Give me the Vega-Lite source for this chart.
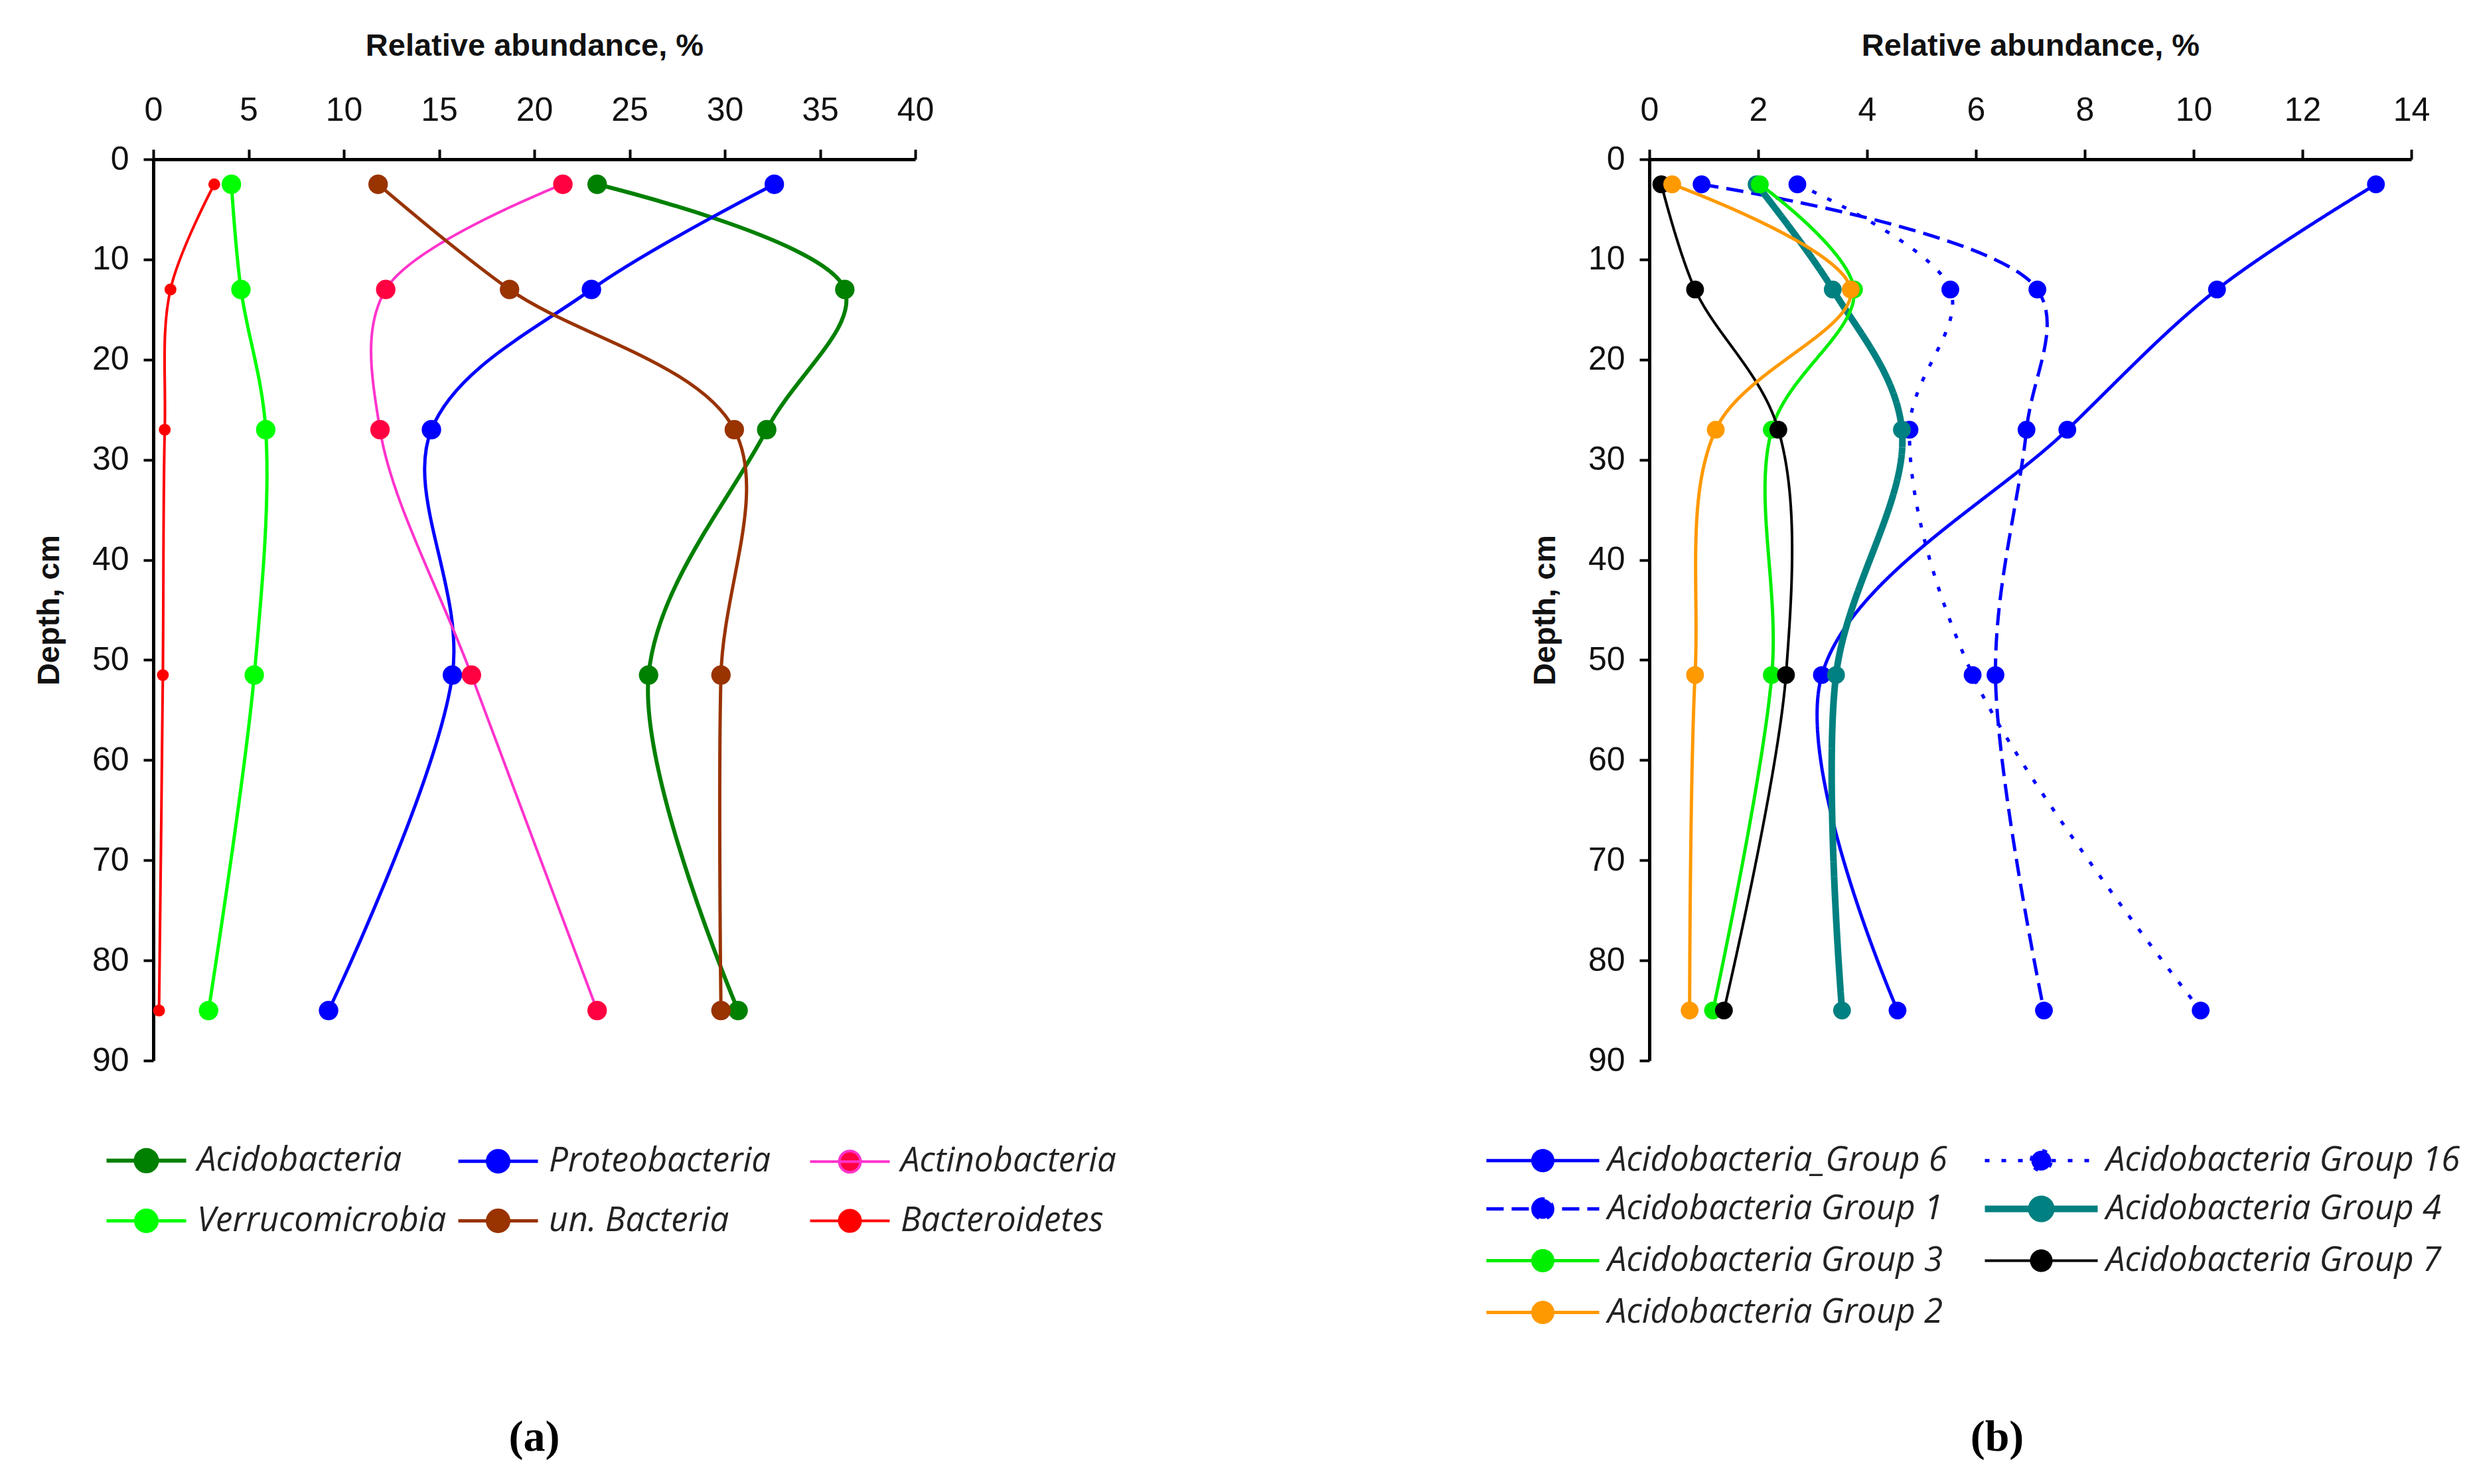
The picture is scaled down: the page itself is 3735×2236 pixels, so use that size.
{
  "$schema": "https://vega.github.io/schema/vega-lite/v6.json",
  "background": "white",
  "padding": {"left": 50, "top": 45, "right": 20, "bottom": 10},
  "autosize": {"type": "pad"},
  "bounds": "flush",
  "columns": 2,
  "spacing": {"row": 528, "column": 1106},
  "datasets": {
    "a": [
      {"series": "Acidobacteria", "depth": 2.5, "value": 23.3},
      {"series": "Acidobacteria", "depth": 13, "value": 36.3},
      {"series": "Acidobacteria", "depth": 27, "value": 32.2},
      {"series": "Acidobacteria", "depth": 51.5, "value": 26.0},
      {"series": "Acidobacteria", "depth": 85, "value": 30.7},
      {"series": "Proteobacteria", "depth": 2.5, "value": 32.6},
      {"series": "Proteobacteria", "depth": 13, "value": 23.0},
      {"series": "Proteobacteria", "depth": 27, "value": 14.6},
      {"series": "Proteobacteria", "depth": 51.5, "value": 15.7},
      {"series": "Proteobacteria", "depth": 85, "value": 9.2},
      {"series": "Actinobacteria", "depth": 2.5, "value": 21.5},
      {"series": "Actinobacteria", "depth": 13, "value": 12.2},
      {"series": "Actinobacteria", "depth": 27, "value": 11.9},
      {"series": "Actinobacteria", "depth": 51.5, "value": 16.7},
      {"series": "Actinobacteria", "depth": 85, "value": 23.3},
      {"series": "Verrucomicrobia", "depth": 2.5, "value": 4.1},
      {"series": "Verrucomicrobia", "depth": 13, "value": 4.6},
      {"series": "Verrucomicrobia", "depth": 27, "value": 5.9},
      {"series": "Verrucomicrobia", "depth": 51.5, "value": 5.3},
      {"series": "Verrucomicrobia", "depth": 85, "value": 2.9},
      {"series": "un. Bacteria", "depth": 2.5, "value": 11.8},
      {"series": "un. Bacteria", "depth": 13, "value": 18.7},
      {"series": "un. Bacteria", "depth": 27, "value": 30.5},
      {"series": "un. Bacteria", "depth": 51.5, "value": 29.8},
      {"series": "un. Bacteria", "depth": 85, "value": 29.8},
      {"series": "Bacteroidetes", "depth": 2.5, "value": 3.2},
      {"series": "Bacteroidetes", "depth": 13, "value": 0.9},
      {"series": "Bacteroidetes", "depth": 27, "value": 0.6},
      {"series": "Bacteroidetes", "depth": 51.5, "value": 0.5},
      {"series": "Bacteroidetes", "depth": 85, "value": 0.3}
    ],
    "b": [
      {"series": "Acidobacteria_Group 6", "depth": 2.5, "value": 13.35},
      {"series": "Acidobacteria_Group 6", "depth": 13, "value": 10.43},
      {"series": "Acidobacteria_Group 6", "depth": 27, "value": 7.68},
      {"series": "Acidobacteria_Group 6", "depth": 51.5, "value": 3.17},
      {"series": "Acidobacteria_Group 6", "depth": 85, "value": 4.56},
      {"series": "Acidobacteria Group 16", "depth": 2.5, "value": 2.72},
      {"series": "Acidobacteria Group 16", "depth": 13, "value": 5.53},
      {"series": "Acidobacteria Group 16", "depth": 27, "value": 4.78},
      {"series": "Acidobacteria Group 16", "depth": 51.5, "value": 5.94},
      {"series": "Acidobacteria Group 16", "depth": 85, "value": 10.13},
      {"series": "Acidobacteria Group 1", "depth": 2.5, "value": 0.96},
      {"series": "Acidobacteria Group 1", "depth": 13, "value": 7.13},
      {"series": "Acidobacteria Group 1", "depth": 27, "value": 6.93},
      {"series": "Acidobacteria Group 1", "depth": 51.5, "value": 6.36},
      {"series": "Acidobacteria Group 1", "depth": 85, "value": 7.25},
      {"series": "Acidobacteria Group 4", "depth": 2.5, "value": 1.97},
      {"series": "Acidobacteria Group 4", "depth": 13, "value": 3.37},
      {"series": "Acidobacteria Group 4", "depth": 27, "value": 4.64},
      {"series": "Acidobacteria Group 4", "depth": 51.5, "value": 3.43},
      {"series": "Acidobacteria Group 4", "depth": 85, "value": 3.54},
      {"series": "Acidobacteria Group 3", "depth": 2.5, "value": 2.03},
      {"series": "Acidobacteria Group 3", "depth": 13, "value": 3.76},
      {"series": "Acidobacteria Group 3", "depth": 27, "value": 2.25},
      {"series": "Acidobacteria Group 3", "depth": 51.5, "value": 2.25},
      {"series": "Acidobacteria Group 3", "depth": 85, "value": 1.17},
      {"series": "Acidobacteria Group 7", "depth": 2.5, "value": 0.22},
      {"series": "Acidobacteria Group 7", "depth": 13, "value": 0.84},
      {"series": "Acidobacteria Group 7", "depth": 27, "value": 2.37},
      {"series": "Acidobacteria Group 7", "depth": 51.5, "value": 2.51},
      {"series": "Acidobacteria Group 7", "depth": 85, "value": 1.37},
      {"series": "Acidobacteria Group 2", "depth": 2.5, "value": 0.42},
      {"series": "Acidobacteria Group 2", "depth": 13, "value": 3.70},
      {"series": "Acidobacteria Group 2", "depth": 27, "value": 1.22},
      {"series": "Acidobacteria Group 2", "depth": 51.5, "value": 0.84},
      {"series": "Acidobacteria Group 2", "depth": 85, "value": 0.74}
    ],
    "captions": [
      {"panel": "a", "label": "(a)"},
      {"panel": "b", "label": "(b)"}
    ]
  },
  "config": {
    "view": {"stroke": null},
    "axis": {
      "grid": false,
      "domainColor": "black",
      "domainWidth": 5,
      "tickColor": "black",
      "tickWidth": 4,
      "tickSize": 15,
      "labelFont": "Liberation Sans",
      "labelFontSize": 50,
      "labelColor": "#111",
      "labelFlush": false,
      "labelOverlap": false,
      "titleFont": "Liberation Sans",
      "titleFontSize": 47,
      "titleFontWeight": "bold",
      "titleColor": "#111"
    },
    "axisTop": {"labelPadding": 34, "titlePadding": 48},
    "axisLeft": {"labelPadding": 22, "titlePadding": 40},
    "legend": {
      "title": null,
      "labelFont": "Open Sans",
      "labelFontStyle": "italic",
      "labelFontSize": 51,
      "labelColor": "#222",
      "labelLimit": 2000,
      "symbolSize": 1600,
      "gridAlign": "all"
    }
  },
  "resolve": {
    "scale": {"fill": "independent", "stroke": "independent", "strokeDash": "independent", "strokeWidth": "independent"}
  },
  "concat": [
    {
      "width": 1148,
      "height": 1358,
      "data": {"name": "a"},
      "encoding": {
        "x": {"field": "value", "type": "quantitative",
              "scale": {"domain": [0, 40], "nice": false, "zero": false},
              "axis": {"orient": "top", "title": "Relative abundance, %", "values": [0, 5, 10, 15, 20, 25, 30, 35, 40]}},
        "y": {"field": "depth", "type": "quantitative",
              "scale": {"domain": [0, 90], "reverse": true, "nice": false},
              "axis": {"title": "Depth, cm", "values": [0, 10, 20, 30, 40, 50, 60, 70, 80, 90]}},
        "order": {"field": "depth", "type": "quantitative"}
      },
      "layer": [
        {
          "mark": {"type": "line", "interpolate": "catmull-rom"},
          "encoding": {
            "stroke": {"field": "series", "type": "nominal",
              "scale": {"domain": ["Acidobacteria", "Verrucomicrobia", "Proteobacteria", "un. Bacteria", "Actinobacteria", "Bacteroidetes"],
                        "range": ["#008000", "#00ff00", "#0000ff", "#993300", "#ff33cc", "#ff0000"]},
              "legend": {"orient": "none", "legendX": -36, "legendY": 1483, "columns": 3, "columnPadding": 7, "rowPadding": 36, "labelOffset": 51,
                         "symbolType": "M-3,0L3,0M-0.8,0A0.8,0.8,0,1,1,0.8,0A0.8,0.8,0,1,1,-0.8,0Z"}},
            "strokeWidth": {"field": "series", "type": "ordinal",
              "scale": {"type": "ordinal", "domain": ["Acidobacteria", "Verrucomicrobia", "Proteobacteria", "un. Bacteria", "Actinobacteria", "Bacteroidetes"],
                        "range": [6, 5, 5, 5, 4, 4]},
              "legend": {"orient": "none", "legendX": -36, "legendY": 1483, "columns": 3, "columnPadding": 7, "rowPadding": 36, "labelOffset": 51,
                         "symbolType": "M-3,0L3,0M-0.8,0A0.8,0.8,0,1,1,0.8,0A0.8,0.8,0,1,1,-0.8,0Z"}}
          }
        },
        {
          "mark": {"type": "point", "filled": true, "opacity": 1, "strokeWidth": 0},
          "encoding": {
            "fill": {"field": "series", "type": "nominal",
              "scale": {"domain": ["Acidobacteria", "Verrucomicrobia", "Proteobacteria", "un. Bacteria", "Actinobacteria", "Bacteroidetes"],
                        "range": ["#008000", "#00ff00", "#0000ff", "#993300", "#ff0040", "#ff0000"]},
              "legend": {"orient": "none", "legendX": -36, "legendY": 1483, "columns": 3, "columnPadding": 7, "rowPadding": 36, "labelOffset": 51,
                         "symbolType": "M-3,0L3,0M-0.8,0A0.8,0.8,0,1,1,0.8,0A0.8,0.8,0,1,1,-0.8,0Z"}},
            "size": {"condition": {"test": "datum.series === 'Bacteroidetes'", "value": 320}, "value": 860}
          }
        }
      ]
    },
    {
      "width": 1148,
      "height": 1358,
      "data": {"name": "b"},
      "encoding": {
        "x": {"field": "value", "type": "quantitative",
              "scale": {"domain": [0, 14], "nice": false, "zero": false},
              "axis": {"orient": "top", "title": "Relative abundance, %", "values": [0, 2, 4, 6, 8, 10, 12, 14]}},
        "y": {"field": "depth", "type": "quantitative",
              "scale": {"domain": [0, 90], "reverse": true, "nice": false},
              "axis": {"title": "Depth, cm", "values": [0, 10, 20, 30, 40, 50, 60, 70, 80, 90]}},
        "order": {"field": "depth", "type": "quantitative"}
      },
      "layer": [
        {
          "mark": {"type": "line", "interpolate": "catmull-rom"},
          "encoding": {
            "stroke": {"field": "series", "type": "nominal",
              "scale": {"domain": ["Acidobacteria_Group 6", "Acidobacteria Group 1", "Acidobacteria Group 3", "Acidobacteria Group 2", "Acidobacteria Group 16", "Acidobacteria Group 4", "Acidobacteria Group 7"],
                        "range": ["#0000ff", "#0000ff", "#00ee00", "#ff9900", "#0000ff", "#008080", "#000000"]},
              "legend": {"orient": "none", "legendX": -186, "legendY": 1478, "columns": 2, "columnPadding": 14, "rowPadding": 7, "labelOffset": 72,
                         "symbolType": "M-4.25,0L4.25,0M-0.75,0A0.75,0.75,0,1,1,0.75,0A0.75,0.75,0,1,1,-0.75,0Z"}},
            "strokeWidth": {"field": "series", "type": "ordinal",
              "scale": {"type": "ordinal", "domain": ["Acidobacteria_Group 6", "Acidobacteria Group 1", "Acidobacteria Group 3", "Acidobacteria Group 2", "Acidobacteria Group 16", "Acidobacteria Group 4", "Acidobacteria Group 7"],
                        "range": [5, 5, 5, 5, 5, 10, 4]},
              "legend": {"orient": "none", "legendX": -186, "legendY": 1478, "columns": 2, "columnPadding": 14, "rowPadding": 7, "labelOffset": 72,
                         "symbolType": "M-4.25,0L4.25,0M-0.75,0A0.75,0.75,0,1,1,0.75,0A0.75,0.75,0,1,1,-0.75,0Z"}},
            "strokeDash": {"field": "series", "type": "nominal",
              "scale": {"domain": ["Acidobacteria_Group 6", "Acidobacteria Group 1", "Acidobacteria Group 3", "Acidobacteria Group 2", "Acidobacteria Group 16", "Acidobacteria Group 4", "Acidobacteria Group 7"],
                        "range": [[1, 0], [26, 12], [1, 0], [1, 0], [7, 18], [1, 0], [1, 0]]},
              "legend": {"orient": "none", "legendX": -186, "legendY": 1478, "columns": 2, "columnPadding": 14, "rowPadding": 7, "labelOffset": 72,
                         "symbolType": "M-4.25,0L4.25,0M-0.75,0A0.75,0.75,0,1,1,0.75,0A0.75,0.75,0,1,1,-0.75,0Z"}}
          }
        },
        {
          "mark": {"type": "point", "filled": true, "opacity": 1, "strokeWidth": 0, "size": 720},
          "encoding": {
            "fill": {"field": "series", "type": "nominal",
              "scale": {"domain": ["Acidobacteria_Group 6", "Acidobacteria Group 1", "Acidobacteria Group 3", "Acidobacteria Group 2", "Acidobacteria Group 16", "Acidobacteria Group 4", "Acidobacteria Group 7"],
                        "range": ["#0000ff", "#0000ff", "#00ee00", "#ff9900", "#0000ff", "#008080", "#000000"]},
              "legend": {"orient": "none", "legendX": -186, "legendY": 1478, "columns": 2, "columnPadding": 14, "rowPadding": 7, "labelOffset": 72,
                         "symbolType": "M-4.25,0L4.25,0M-0.75,0A0.75,0.75,0,1,1,0.75,0A0.75,0.75,0,1,1,-0.75,0Z"}}
          }
        }
      ]
    },
    {
      "width": 1148,
      "height": 80,
      "data": {"name": "captions"},
      "transform": [{"filter": "datum.panel === 'a'"}],
      "mark": {"type": "text", "font": "Liberation Serif", "fontSize": 66, "fontWeight": "bold", "color": "black", "baseline": "middle", "align": "center"},
      "encoding": {"text": {"field": "label", "type": "nominal"}}
    },
    {
      "width": 1148,
      "height": 80,
      "data": {"name": "captions"},
      "transform": [{"filter": "datum.panel === 'b'"}],
      "mark": {"type": "text", "font": "Liberation Serif", "fontSize": 66, "fontWeight": "bold", "color": "black", "baseline": "middle", "align": "center", "dx": -50},
      "encoding": {"text": {"field": "label", "type": "nominal"}}
    }
  ]
}
